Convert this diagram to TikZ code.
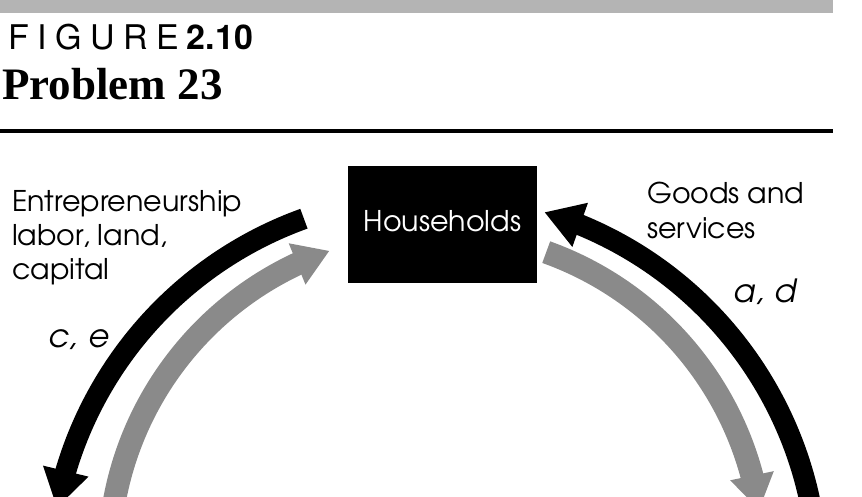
\documentclass[tikz,border=0pt]{standalone}
\usepackage{fontspec}
\usetikzlibrary{arrows.meta,bending}
\setmainfont{Liberation Serif}
\newfontfamily\futura{TeX Gyre Adventor}
\newfontfamily\helvA[LetterSpace=25]{TeX Gyre Heros}
\newfontfamily\helvB[LetterSpace=1]{TeX Gyre Heros}
\definecolor{flowgray}{RGB}{138,138,138}
\definecolor{bandgray}{RGB}{180,180,180}
\begin{document}
\begin{tikzpicture}[x=1pt,y=1pt,
  blackflow/.style={line width=21pt, draw=black, -{Triangle[length=38pt,width=44pt,flex]}},
  grayflow/.style={line width=23pt, draw=flowgray, -{Triangle[length=35pt,width=42pt,flex]}},
  lbl/.style={inner sep=0pt, font=\futura\fontsize{28.5}{30}\selectfont, anchor=base west},
  ilbl/.style={inner sep=0pt, font=\futura\itshape\fontsize{32}{36}\selectfont, anchor=base west},
  sector/.style={fill=black, text=white, inner sep=0pt, minimum width=189pt, minimum height=117pt,
    font=\futura\fontsize{28.5}{30}\selectfont}]
\useasboundingbox (0,0) rectangle (862,496);
\clip (0,0) rectangle (862,496);
% header
\coordinate (bandL) at (0,483);
\coordinate (bandR) at (833,496);
\fill[bandgray] (bandL) rectangle (bandR);
\node[inner sep=0pt, anchor=base west, font=\fontsize{34}{36}\selectfont] (fig) at (8,446) {{\helvA FIGURE}\hspace{7pt}{\helvB\bfseries 2.10}};
\node[inner sep=0pt, anchor=base west, font=\bfseries\fontsize{45}{48}\selectfont] (prob) at (2,396) {Problem 23};
\coordinate (ruleL) at (0,365);
\coordinate (ruleR) at (833,365);
\draw[line width=4pt] (ruleL) -- (ruleR);
% households
\node[sector] (hh) at (442.5,271.5) {\raisebox{8pt}{Households}};
% flows
\coordinate (cb) at (434,-84);
\coordinate (cg) at (436,-64);
\draw[blackflow] ([shift={(109.8:384)}]cb) arc[start angle=109.8, end angle=169.2, radius=384];
\draw[blackflow] ([shift={(-15:384)}]cb) arc[start angle=-15, end angle=73.3, radius=384];
\draw[grayflow] ([shift={(200:327)}]cg) arc[start angle=200, end angle=109, radius=327];
\draw[grayflow] ([shift={(70.3:327)}]cg) arc[start angle=70.3, end angle=8.8, radius=327];
% labels
\node[lbl] (ent1) at (12,284) {Entrepreneurship};
\node[lbl] (ent2) at (12,250) {labor, land,};
\node[lbl] (ent3) at (12,217) {capital};
\node[lbl] (gs1) at (647,292) {Goods and};
\node[lbl] (gs2) at (647,258) {services};
\node[ilbl] (ad) at (733,194) {a,\hspace{2pt} d};
\node[ilbl] (ce) at (48,149) {c,\hspace{2pt} e};
\end{tikzpicture}
\end{document}
